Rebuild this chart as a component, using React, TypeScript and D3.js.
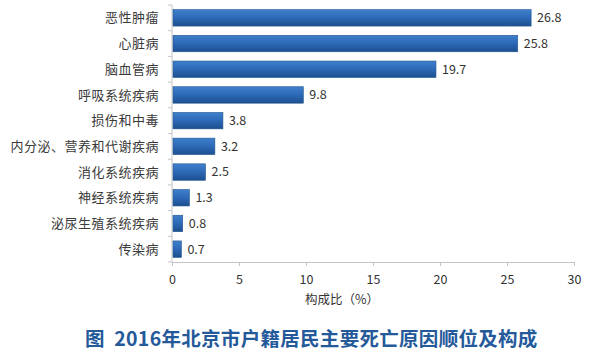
import { useEffect, useRef } from "react";
import * as d3 from "d3";

const categories = [
  "恶性肿瘤",
  "心脏病",
  "脑血管病",
  "呼吸系统疾病",
  "损伤和中毒",
  "内分泌、营养和代谢疾病",
  "消化系统疾病",
  "神经系统疾病",
  "泌尿生殖系统疾病",
  "传染病",
];
const values = [26.8, 25.8, 19.7, 9.8, 3.8, 3.2, 2.5, 1.3, 0.8, 0.7];
const xTicks = [0, 5, 10, 15, 20, 25, 30];
const xLabel = "构成比（%）";
const title = "图  2016年北京市户籍居民主要死亡原因顺位及构成";

const W = 600;
const H = 353;
const FONT = "'Noto Sans CJK SC', 'Noto Sans', sans-serif";

export default function App() {
  const svgRef = useRef<SVGSVGElement>(null);

  useEffect(() => {
    const svg = d3.select(svgRef.current);
    svg.selectAll("*").remove();

    const left = 172;
    const right = 574;
    const top = 5;
    const bottom = 262;

    const x = d3.scaleLinear().domain([0, 30]).range([left, right]);
    const y = d3
      .scaleBand<string>()
      .domain(categories)
      .range([top, bottom])
      .paddingInner(0.36)
      .paddingOuter(0.18);

    // bar gradient
    const defs = svg.append("defs");
    const grad = defs
      .append("linearGradient")
      .attr("id", "barGrad")
      .attr("x1", 0)
      .attr("y1", 0)
      .attr("x2", 0)
      .attr("y2", 1);
    grad.append("stop").attr("offset", "0%").attr("stop-color", "#3f7fcc");
    grad.append("stop").attr("offset", "45%").attr("stop-color", "#2e6bb9");
    grad.append("stop").attr("offset", "100%").attr("stop-color", "#1d4f8f");

    // x axis
    const gx = svg.append("g").attr("transform", `translate(0,${bottom})`);
    gx.call(
      d3
        .axisBottom(x)
        .tickValues(xTicks)
        .tickSize(4)
        .tickPadding(9)
        .tickFormat(d3.format("d"))
    );
    gx.select(".domain").attr("stroke", "#c4c4c4");
    gx.selectAll(".tick line").attr("stroke", "#c4c4c4");
    gx.selectAll(".tick text")
      .attr("fill", "#333")
      .style("font-size", "12.5px")
      .style("font-family", FONT);

    // y axis line with ticks between categories
    svg
      .append("line")
      .attr("x1", left)
      .attr("x2", left)
      .attr("y1", top)
      .attr("y2", bottom)
      .attr("stroke", "#c4c4c4");
    const gap = y.step() - y.bandwidth();
    const bounds = d3
      .range(categories.length + 1)
      .map((i) =>
        i === 0 ? top : i === categories.length ? bottom : (y(categories[i]) as number) - gap / 2
      );
    svg
      .selectAll(".ytick")
      .data(bounds)
      .join("line")
      .attr("class", "ytick")
      .attr("x1", left - 4)
      .attr("x2", left)
      .attr("y1", (d) => d)
      .attr("y2", (d) => d)
      .attr("stroke", "#c4c4c4");

    // category labels
    svg
      .selectAll(".cat")
      .data(categories)
      .join("text")
      .attr("class", "cat")
      .attr("x", left - 13)
      .attr("y", (d) => (y(d) as number) + y.bandwidth() / 2)
      .attr("dy", "0.35em")
      .attr("text-anchor", "end")
      .attr("fill", "#3a3a3a")
      .style("font-size", "13px")
      .style("letter-spacing", "0.5px")
      .style("font-family", FONT)
      .text((d) => d);

    // bars
    svg
      .selectAll(".bar")
      .data(values)
      .join("rect")
      .attr("class", "bar")
      .attr("x", x(0) + 1)
      .attr("y", (_, i) => y(categories[i]) as number)
      .attr("width", (d) => x(d) - x(0) - 1)
      .attr("height", y.bandwidth())
      .attr("fill", "url(#barGrad)")
      .attr("stroke", "#24568f")
      .attr("stroke-width", 0.6);

    // value labels
    svg
      .selectAll(".val")
      .data(values)
      .join("text")
      .attr("class", "val")
      .attr("x", (d) => x(d) + 6)
      .attr("y", (_, i) => (y(categories[i]) as number) + y.bandwidth() / 2)
      .attr("dy", "0.35em")
      .attr("fill", "#333")
      .style("font-size", "12.5px")
      .style("font-family", FONT)
      .text((d) => d.toFixed(1));

    // axis title
    svg
      .append("text")
      .attr("x", 342)
      .attr("y", 304)
      .attr("text-anchor", "middle")
      .attr("fill", "#333")
      .style("font-size", "12.5px")
      .style("font-family", FONT)
      .text(xLabel);

    // chart title
    svg
      .append("text")
      .attr("x", 85)
      .attr("y", 346)
      .attr("fill", "#24599a")
      .style("font-size", "19.5px")
      .style("font-weight", "bold")
      .style("letter-spacing", "0.3px")
      .style("font-family", FONT)
      .style("white-space", "pre")
      .text(title);
  }, []);

  return (
    <svg
      ref={svgRef}
      width={W}
      height={H}
      style={{ position: "absolute", left: 0, top: 0, background: "#fff" }}
    />
  );
}
